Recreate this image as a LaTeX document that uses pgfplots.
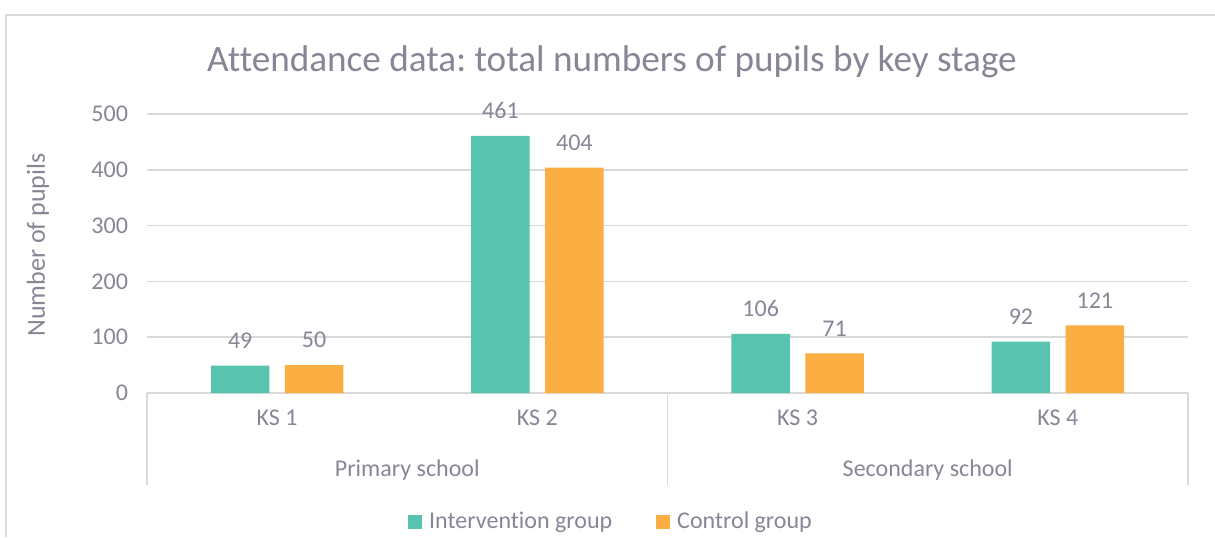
\documentclass[border=0pt]{standalone}
\usepackage{pgfplots}
\pgfplotsset{compat=1.18}
\usepackage{fontspec}
\setmainfont[Ligatures=NoCommon]{Carlito}
\frenchspacing

\definecolor{txt}{RGB}{137,133,150}
\definecolor{gridc}{RGB}{217,217,217}
\definecolor{tealbar}{RGB}{88,196,176}
\definecolor{orangebar}{RGB}{251,174,66}

\begin{document}
\begin{tikzpicture}
\begin{axis}[
    scale only axis,
    width=520.5pt, height=139.5pt,
    xmin=0, xmax=4, ymin=0, ymax=500,
    clip=false,
    axis line style={draw=none},
    /pgf/number format/assume math mode=true,
    ytick={0,100,...,500},
    ymajorgrids,
    grid style={gridc, line width=0.8pt},
    major tick length=0pt,
    xtick={0.5,1.5,2.5,3.5},
    xticklabels={KS 1,KS 2,KS 3,KS 4},
    ticklabel style={font=\fontsize{12}{14}\selectfont, text=txt},
    xticklabel style={yshift=-5pt},
    yticklabel style={xshift=-6pt},
    ybar,
    bar width=0.225,
    nodes near coords,
    nodes near coords style={font=\fontsize{12}{14}\selectfont, text=txt, anchor=south, yshift=5pt},
    every axis plot post/.append style={legend image code/.code={\fill[##1] (0pt,-3.5pt) rectangle (7pt,3.5pt);}},
    legend columns=2,
    legend style={at={(0.4467,-0.462)}, anchor=center, draw=none, fill=none,
        font=\fontsize{12}{14}\selectfont, text=txt,
        /tikz/every odd column/.append style={column sep=1.5pt},
        /tikz/every even column/.append style={column sep=20pt}},
]
\addplot[fill=tealbar, draw=none, bar shift=-0.142] coordinates {
    (0.5,49) (1.5,461) (2.5,106) (3.5,92)
};
\addplot[fill=orangebar, draw=none, bar shift=0.142] coordinates {
    (0.5,50) (1.5,404) (2.5,71) (3.5,121)
};
\legend{Intervention group, Control group}

\draw[gridc, line width=0.8pt] (axis cs:0,0) -- ++(0,-46pt);
\draw[gridc, line width=0.8pt] (axis cs:2,0) -- ++(0,-46pt);
\draw[gridc, line width=0.8pt] (axis cs:4,0) -- ++(0,-46pt);
\node[font=\fontsize{12}{14}\selectfont, text=txt] at ([yshift=-38.5pt]axis cs:1,0) {Primary school};
\node[font=\fontsize{12}{14}\selectfont, text=txt] at ([yshift=-38.5pt]axis cs:3,0) {Secondary school};
\end{axis}

\node[font=\fontsize{18.6}{22}\selectfont, text=txt] at (232.5pt,165.5pt) {Attendance data: total numbers of pupils by key stage};
\node[font=\fontsize{13}{15}\selectfont, text=txt, rotate=90] at (-54.5pt,74pt) {Number of pupils};
\draw[gridc, line width=0.8pt] (-70.5pt,-72pt) -- (-70.5pt,189pt) -- (534pt,189pt);

\pgfresetboundingbox
\path[use as bounding box] (-73.5pt,-72pt) rectangle (534pt,196.5pt);
\end{tikzpicture}
\end{document}
